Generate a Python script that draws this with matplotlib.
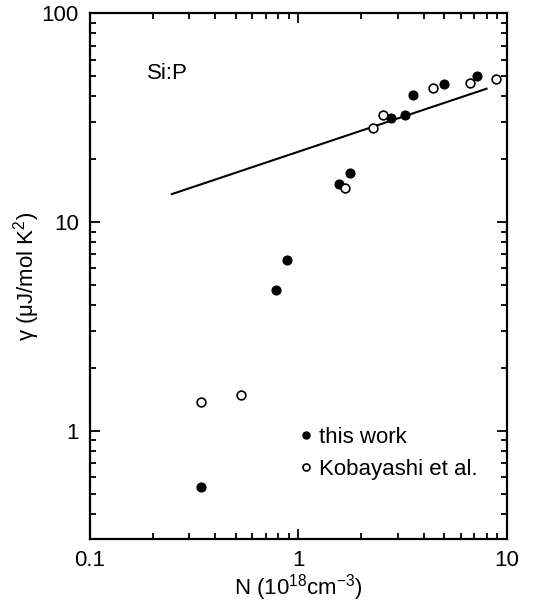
import numpy as np
import matplotlib.pyplot as plt
from matplotlib.ticker import LogLocator, FuncFormatter, NullFormatter

plt.rcParams['font.family'] = ['Liberation Sans', 'DejaVu Sans']
plt.rcParams['mathtext.fontset'] = 'custom'
plt.rcParams['mathtext.rm'] = 'Liberation Sans'
plt.rcParams['mathtext.it'] = 'Liberation Sans:italic'

# this work (filled)
work_N = [0.34, 0.78, 0.883, 1.57, 1.77, 2.77, 3.24, 3.56, 5.0, 7.23]
work_gamma = [0.54, 4.74, 6.59, 15.2, 17.1, 31.6, 32.6, 40.8, 46.0, 50.2]

# Kobayashi et al. (open)
koba_N = [0.34, 0.53, 1.67, 2.27, 2.55, 4.43, 6.65, 8.83]
koba_gamma = [1.38, 1.48, 14.5, 28.3, 32.4, 43.9, 46.4, 48.2]

# free electron line
line_N = [0.247, 8.0]
line_gamma = [13.6, 43.5]

fig = plt.figure(figsize=(5.34, 6.02), dpi=100)
ax = fig.add_axes([0.1685, 0.1047, 0.7805, 0.8733])

ax.plot(line_N, line_gamma, color='black', lw=1.5)
ax.plot(work_N, work_gamma, 'o', color='black', ms=6.3, label='this work')
ax.plot(koba_N, koba_gamma, 'o', mfc='white', mec='black', mew=1.2, ms=6.3,
        label='Kobayashi et al.')

ax.set_xscale('log')
ax.set_yscale('log')
ax.set_xlim(0.1, 10)
ax.set_ylim(0.303, 100)

fmt = FuncFormatter(lambda v, p: ('%g' % v))
for a in (ax.xaxis, ax.yaxis):
    a.set_major_locator(LogLocator(base=10, numticks=10))
    a.set_minor_locator(LogLocator(base=10, subs=np.arange(2, 10), numticks=10))
    a.set_major_formatter(fmt)
    a.set_minor_formatter(NullFormatter())

ax.tick_params(which='both', direction='in', top=True, right=True,
               width=1.3, labelsize=16)
ax.tick_params(which='major', length=7, pad=8)
ax.tick_params(which='minor', length=4)
for s in ax.spines.values():
    s.set_linewidth(1.6)

ax.set_xlabel(r'N (10$^{18}$cm$^{-3}$)', fontsize=16, labelpad=1)
ax.set_ylabel(r'γ (μJ/mol K$^{2}$)', fontsize=16, labelpad=0)

ax.text(0.137, 0.875, 'Si:P', transform=ax.transAxes, fontsize=16)

ax.legend(loc='lower left', bbox_to_anchor=(0.47, 0.095), frameon=False,
          fontsize=16, handletextpad=0.1, handlelength=1.0,
          borderaxespad=0, labelspacing=0.5, markerscale=0.8)

fig.savefig('out.png', dpi=100)
